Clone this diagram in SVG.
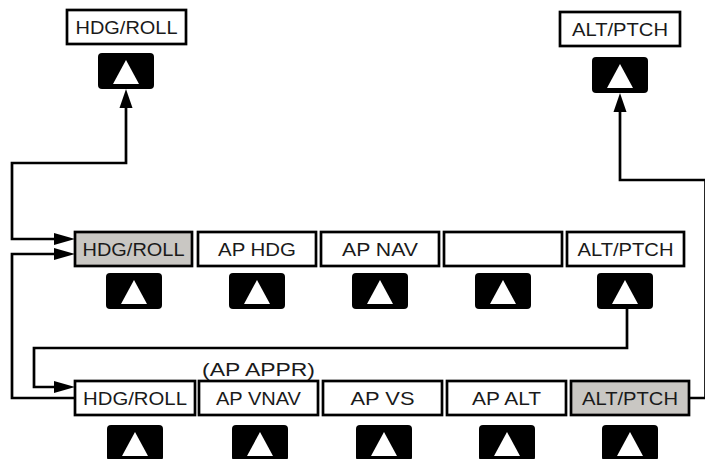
<svg xmlns="http://www.w3.org/2000/svg" width="705" height="459" viewBox="0 0 705 459">
<style>
.box{fill:#fff;stroke:#000;stroke-width:2.7}
.sel{fill:#c9c7c3;stroke:#000;stroke-width:2.7}
.lbl{font-family:"Liberation Sans",Arial,sans-serif;font-size:19px;fill:#1a1a1a;text-anchor:middle}
.btn{fill:#000}
.tri{fill:#fff}
.wire{fill:none;stroke:#000;stroke-width:2.7}
</style>
<defs>
<g id="button">
<rect x="0" y="0" width="56" height="36" rx="4" class="btn"/>
<path d="M28,7 L41,31 L15,31 z" class="tri"/>
</g>
</defs>

<g id="connectors">
<path class="wire" d="M126,105 V163 H12 V239 H57" />
<path class="wire" d="M75,398 H12 V254 H57" />
<path class="wire" d="M627,309 V348 H34 V387 H57" />
<path class="wire" d="M689,398 H705.5 V180 H620 V110" />
<path d="M54,233 L75,239 L54,245 z" fill="#000"/>
<path d="M54,248 L75,254 L54,260 z" fill="#000"/>
<path d="M54,381 L75,387 L54,393 z" fill="#000"/>
<path d="M119.5,108 L126,89 L132.5,108 z" fill="#000"/>
<path d="M613.5,112 L620,93 L626.5,112 z" fill="#000"/>
</g>

<g id="top-hdg">
<rect class="box" x="67" y="10" width="119" height="34"/>
<text class="lbl" x="126.5" y="33.5" textLength="102" lengthAdjust="spacingAndGlyphs">HDG/ROLL</text>
</g>
<g id="top-hdg-btn"><use href="#button" x="98" y="53"/></g>

<g id="top-alt">
<rect class="box" x="560" y="12" width="120" height="34"/>
<text class="lbl" x="620" y="35.5" textLength="96" lengthAdjust="spacingAndGlyphs">ALT/PTCH</text>
</g>
<g id="top-alt-btn"><use href="#button" x="592" y="57"/></g>

<g id="m1"><rect class="sel" x="75" y="232" width="117" height="34"/>
<text class="lbl" x="133.5" y="255.5" textLength="102" lengthAdjust="spacingAndGlyphs">HDG/ROLL</text></g>
<g id="m2"><rect class="box" x="198" y="232" width="118" height="34"/>
<text class="lbl" x="257" y="255.5" textLength="78" lengthAdjust="spacingAndGlyphs">AP HDG</text></g>
<g id="m3"><rect class="box" x="321" y="232" width="118" height="34"/>
<text class="lbl" x="380" y="255.5" textLength="76" lengthAdjust="spacingAndGlyphs">AP NAV</text></g>
<g id="m4"><rect class="box" x="444" y="232" width="118" height="34"/></g>
<g id="m5"><rect class="box" x="567" y="232" width="117" height="34"/>
<text class="lbl" x="625.5" y="255.5" textLength="96" lengthAdjust="spacingAndGlyphs">ALT/PTCH</text></g>

<g id="mb1"><use href="#button" x="106" y="273"/></g>
<g id="mb2"><use href="#button" x="229" y="273"/></g>
<g id="mb3"><use href="#button" x="352" y="273"/></g>
<g id="mb4"><use href="#button" x="475" y="273"/></g>
<g id="mb5"><use href="#button" x="597" y="273"/></g>

<g id="appr"><text class="lbl" x="258.5" y="376" font-size="20" textLength="113" lengthAdjust="spacingAndGlyphs">(AP APPR)</text></g>

<g id="b1"><rect class="box" x="75" y="381" width="120" height="34"/>
<text class="lbl" x="135" y="404.5" textLength="104" lengthAdjust="spacingAndGlyphs">HDG/ROLL</text></g>
<g id="b2"><rect class="box" x="199" y="381" width="119" height="34"/>
<text class="lbl" x="258.5" y="404.5" textLength="85" lengthAdjust="spacingAndGlyphs">AP VNAV</text></g>
<g id="b3"><rect class="box" x="323" y="381" width="119" height="34"/>
<text class="lbl" x="382.5" y="404.5" textLength="64" lengthAdjust="spacingAndGlyphs">AP VS</text></g>
<g id="b4"><rect class="box" x="447" y="381" width="119" height="34"/>
<text class="lbl" x="506.5" y="404.5" textLength="69" lengthAdjust="spacingAndGlyphs">AP ALT</text></g>
<g id="b5"><rect class="sel" x="571" y="381" width="118" height="34"/>
<text class="lbl" x="630" y="404.5" textLength="96" lengthAdjust="spacingAndGlyphs">ALT/PTCH</text></g>

<g id="bb1"><use href="#button" x="107" y="425"/></g>
<g id="bb2"><use href="#button" x="232" y="425"/></g>
<g id="bb3"><use href="#button" x="356" y="425"/></g>
<g id="bb4"><use href="#button" x="479" y="425"/></g>
<g id="bb5"><use href="#button" x="602" y="425"/></g>
</svg>
